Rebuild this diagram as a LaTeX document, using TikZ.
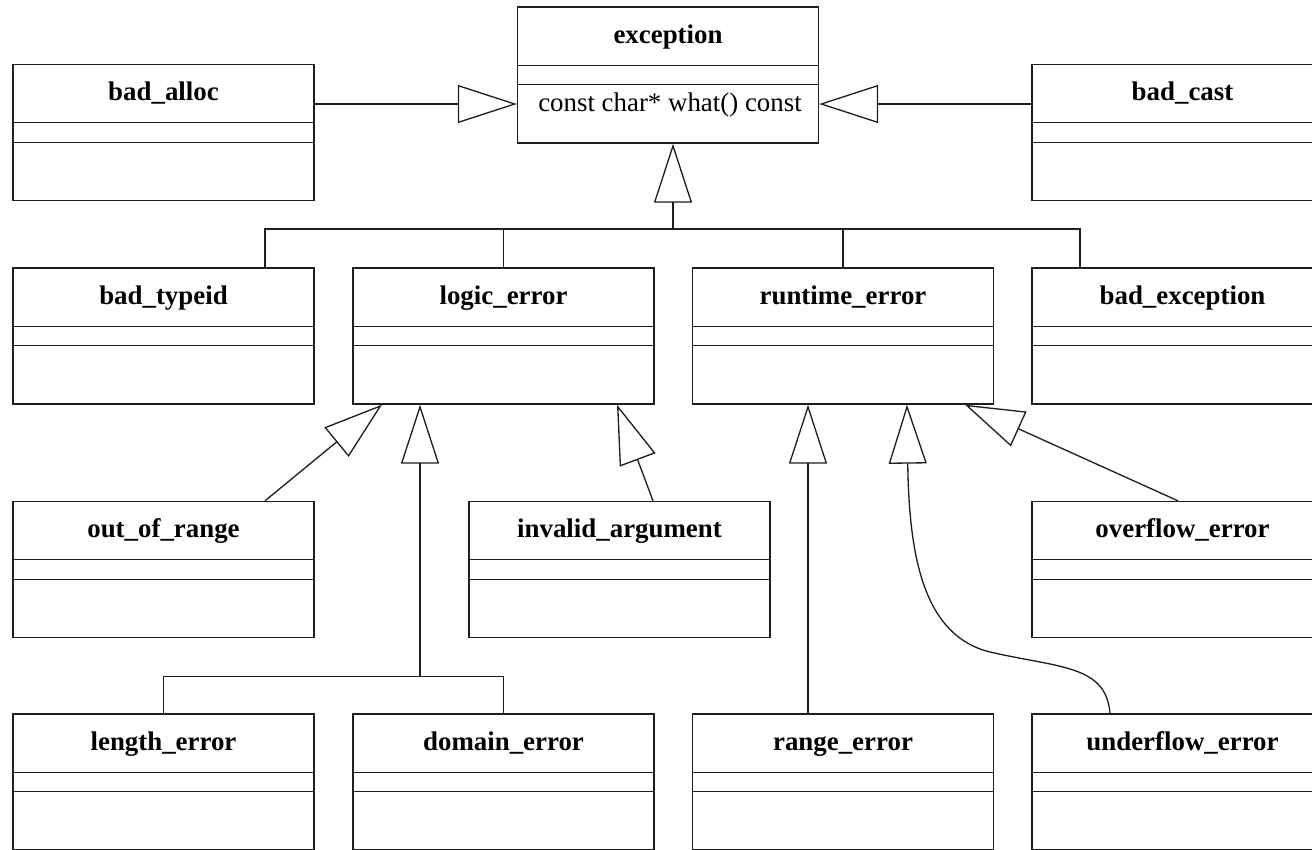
\documentclass[tikz,border=0pt]{standalone}
\usepackage{fontspec}
\setmainfont{Liberation Serif}
\usetikzlibrary{arrows.meta, positioning, calc}
\definecolor{umlline}{HTML}{1E1E1E}

\tikzset{
  cls/.style={draw=umlline, line width=0.8pt, minimum width=6.02cm, minimum height=2.72cm, inner sep=0pt},
  clstitle/.style={anchor=base, font=\fontsize{15.3}{18}\selectfont\bfseries},
  clsop/.style={anchor=base, font=\fontsize{15.3}{18}\selectfont},
  conn/.style={draw=umlline, line width=0.75pt},
  gen/.style={conn, -{Triangle[open, length=1.18cm, width=0.76cm]}},
}

\begin{document}
\begin{tikzpicture}[x=0.02cm, y=-0.02cm]
  \useasboundingbox (0,0) rectangle (1312,849);
  \clip (0,0) rectangle (1312,849);

  % Classes
  \foreach \n/\x/\y/\t in {exception/668/75/exception,
      badalloc/163.5/132.5/bad\_alloc, badcast/1182.5/132.5/bad\_cast,
      badtypeid/163.5/336/bad\_typeid, logicerror/503.5/336/logic\_error,
      runtimeerror/843/336/runtime\_error, badexception/1182.5/336/bad\_exception,
      outofrange/163.5/569.5/out\_of\_range, invalidargument/619.5/569.5/invalid\_argument,
      overflowerror/1182.5/569.5/overflow\_error,
      lengtherror/163.5/782/length\_error, domainerror/503.5/782/domain\_error,
      rangeerror/843/782/range\_error, underflowerror/1182.5/782/underflow\_error} {
    \node[cls] (\n) at (\x,\y) {};
    \node[clstitle] at ($(\n.north)+(0,37)$) {\t};
    \draw[conn] ($(\n.north west)+(0,59)$) -- ($(\n.north east)+(0,59)$);
    \draw[conn] ($(\n.north west)+(0,78.5)$) -- ($(\n.north east)+(0,78.5)$);
  }
  \node[clsop] (what) at ($(exception.north)+(2,105)$) {const char* what() const};

  % Side parents
  \coordinate (whaty) at (0,104);
  \draw[gen] (badalloc.east |- whaty) -- (exception.west |- whaty);
  \draw[gen] (badcast.west |- whaty) -- (exception.east |- whaty);

  % Tree under exception
  \coordinate (busT) at (673,229);
  \coordinate (bx1) at ($(badtypeid.north)+(101.5,0)$);
  \coordinate (bx4) at ($(badexception.north)+(-102.5,0)$);
  \draw[conn] (bx1) |- (bx4 |- busT) -- (bx4);
  \draw[conn] (logicerror.north) -- (logicerror.north |- busT);
  \draw[conn] (runtimeerror.north) -- (runtimeerror.north |- busT);
  \draw[gen] (busT) -- (busT |- exception.south);

  % logic_error children
  \draw[gen] ($(outofrange.north)+(101.5,0)$) -- ($(logicerror.south)+(-121.5,0)$);
  \coordinate (lbus) at ($(logicerror.south)+(-83.5,272)$);
  \draw[conn] (lengtherror.north) |- (domainerror.north |- lbus) -- (domainerror.north);
  \draw[gen] (lbus) -- (lbus |- logicerror.south);
  \draw[gen] ($(invalidargument.north)+(33.5,0)$) -- ($(logicerror.south)+(113.5,0)$);

  % runtime_error children
  \draw[gen] ($(rangeerror.north)+(-35,0)$) -- ($(runtimeerror.south)+(-35,0)$);
  \draw[gen] ($(overflowerror.north)+(-4.5,0)$) -- ($(runtimeerror.south)+(122,0)$);
  \draw[gen] ($(underflowerror.north)+(-72.5,0)$) .. controls (1106,665) and (1060,668) .. (990,652)
    .. controls (925,636) and (909,560) .. ($(runtimeerror.south)+(64,0)$);
\end{tikzpicture}
\end{document}
